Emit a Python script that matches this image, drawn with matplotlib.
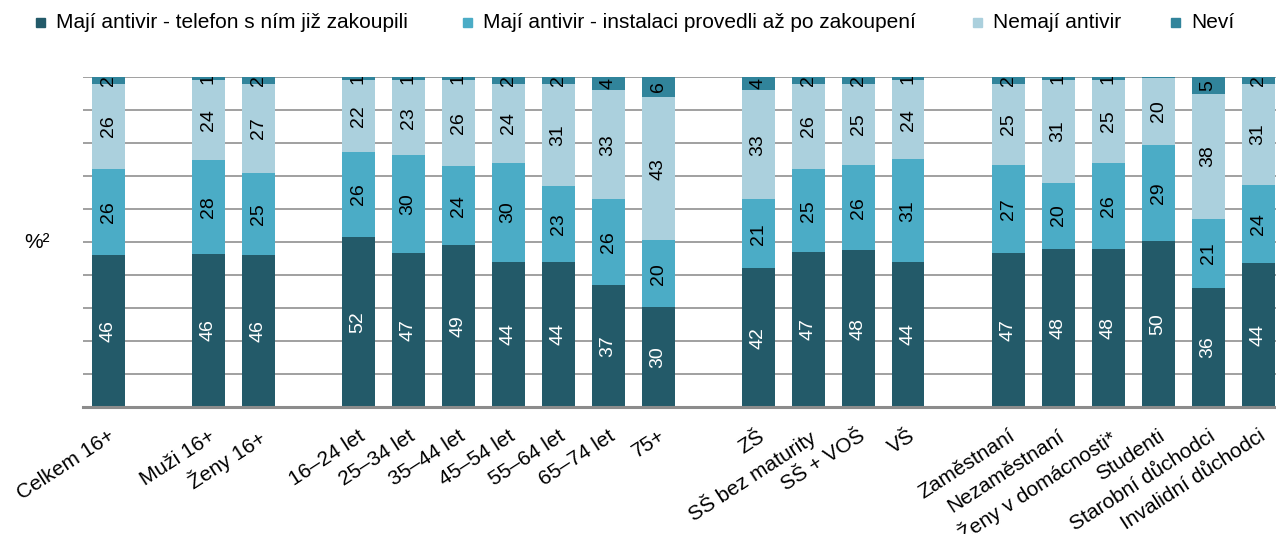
import numpy as np
import matplotlib.pyplot as plt
from matplotlib.patches import Rectangle

plt.rcParams['font.family'] = ['Liberation Sans', 'DejaVu Sans']

# Data (%)
categories = ['Celkem 16+', 'Muži 16+', 'Ženy 16+',
              '16–24 let', '25–34 let', '35–44 let', '45–54 let', '55–64 let', '65–74 let', '75+',
              'ZŠ', 'SŠ bez maturity', 'SŠ + VOŠ', 'VŠ',
              'Zaměstnaní', 'Nezaměstnaní', 'Ženy v domácnosti*', 'Studenti',
              'Starobní důchodci', 'Invalidní důchodci']
bought = [46, 46, 46, 52, 47, 49, 44, 44, 37, 30, 42, 47, 48, 44, 47, 48, 48, 50, 36, 44]
installed = [26, 28, 25, 26, 30, 24, 30, 23, 26, 20, 21, 25, 26, 31, 27, 20, 26, 29, 21, 24]
no_av = [26, 24, 27, 22, 23, 26, 24, 31, 33, 43, 33, 26, 25, 24, 25, 31, 25, 20, 38, 31]
dont_know = [2, 1, 2, 1, 1, 1, 2, 2, 4, 6, 4, 2, 2, 1, 2, 1, 1, 0.4, 5, 2]

series_names = ['Mají antivir - telefon s ním již zakoupili',
                'Mají antivir - instalaci provedli až po zakoupení',
                'Nemají antivir', 'Neví']
colors = ['#235a69', '#4bacc6', '#abd0dd', '#31849b']
text_colors = ['white', 'black', 'black', 'black']

# layout: bar slots with empty slots between groups
positions = [0, 2, 3, 5, 6, 7, 8, 9, 10, 11, 13, 14, 15, 16, 18, 19, 20, 21, 22, 23]

fig = plt.figure(figsize=(12.76, 5.34), dpi=100)
ax = fig.add_axes([83 / 1276, 1 - 407 / 534, 1 - 83 / 1276, 330 / 534])

data = np.array([bought, installed, no_av, dont_know], dtype=float)
shares = data / data.sum(axis=0) * 100   # stacks fill 0-100 %
bottom = np.zeros(len(categories))
for vals, shr, col, tcol in zip(data, shares, colors, text_colors):
    ax.bar(positions, shr, bottom=bottom, width=0.66, color=col, zorder=2)
    for x, v, s, b in zip(positions, vals, shr, bottom):
        if v >= 0.5:
            ax.text(x, b + s / 2, f'{v:.0f}', rotation=90, ha='center', va='center',
                    fontsize=14, color=tcol, clip_on=True, zorder=3)
    bottom += shr

ax.set_xlim(-0.5, 23.36)
ax.set_ylim(0, 100)
ax.set_yticks(range(0, 101, 10))
ax.set_yticklabels([])
ax.tick_params(axis='y', length=0)
ax.yaxis.grid(True, color='#a0a0a0', lw=1.4)
ax.set_axisbelow(True)
ax.set_xticks(positions)
ax.set_xticklabels(categories, rotation=33, ha='right', rotation_mode='anchor', fontsize=15)
ax.tick_params(axis='x', length=0, pad=14)
for s in ['top', 'left', 'right']:
    ax.spines[s].set_visible(False)
ax.spines['bottom'].set_color('#8c8c8c')
ax.spines['bottom'].set_linewidth(2.2)

fig.text(37 / 1276, 1 - 243 / 534, '%²', fontsize=15, ha='center', va='center')

# legend drawn by hand to keep the uneven spacing
legend_x = [36, 463, 973, 1171]
for lx, name, col in zip(legend_x, series_names, colors):
    fig.patches.append(Rectangle((lx / 1276, 1 - 27 / 534), 9 / 1276, 9 / 534,
                                 transform=fig.transFigure, color=col))
    fig.text((lx + 20) / 1276, 1 - 22 / 534, name, fontsize=15, va='center')

fig.savefig('out.png', dpi=100)
